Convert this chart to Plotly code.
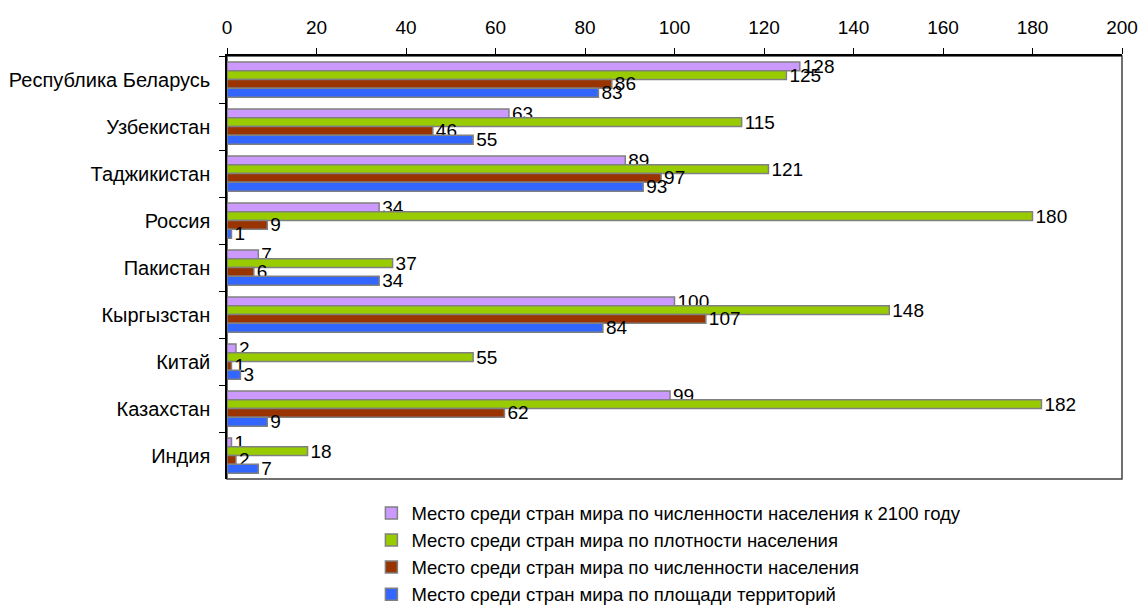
import plotly.graph_objects as go

# categories listed top to bottom as in the reference
categories = ["Республика Беларусь", "Узбекистан", "Таджикистан", "Россия",
              "Пакистан", "Кыргызстан", "Китай", "Казахстан", "Индия"]

series_names = [
    "Место среди стран мира по численности населения к 2100 году",
    "Место среди стран мира по плотности населения",
    "Место среди стран мира по численности населения",
    "Место среди стран мира по площади территорий",
]

pop_2100 = [128, 63, 89, 34, 7, 100, 2, 99, 1]
density = [125, 115, 121, 180, 37, 148, 55, 182, 18]
population = [86, 46, 97, 9, 6, 107, 1, 62, 2]
area = [83, 55, 93, 1, 34, 84, 3, 9, 7]

x_ticks = [0, 20, 40, 60, 80, 100, 120, 140, 160, 180, 200]

colors = ["#CC99FF", "#99CC00", "#993300", "#3366FF"]
values = [pop_2100, density, population, area]

FONT = "Liberation Sans, Arial, sans-serif"

fig = go.Figure()
for i in range(4):
    fig.add_trace(go.Bar(
        y=categories, x=values[i], orientation="h", name=series_names[i],
        marker=dict(color=colors[i], line=dict(color="#808080", width=1.5)),
        text=[str(v) for v in values[i]], textposition="outside",
        textfont=dict(size=19, color="#000000", family=FONT),
        constraintext="none", cliponaxis=False,
        legendgroup=str(i),
    ))

fig.update_layout(
    width=1141, height=606,
    margin=dict(l=227, r=19, t=56, b=127, autoexpand=False),
    paper_bgcolor="white", plot_bgcolor="white",
    barmode="group", bargap=0.25, bargroupgap=0,
    font=dict(family=FONT, size=19, color="#000000"),
    showlegend=True,
    legend=dict(xref="container", yref="container", x=0.3255, y=0.184,
                xanchor="left", yanchor="top",
                traceorder="grouped", tracegroupgap=0,
                font=dict(size=18.5, family=FONT), itemwidth=30),
)
fig.update_xaxes(side="top", range=[0, 200], tickvals=x_ticks,
                 ticks="outside", ticklen=6, tickcolor="#000000",
                 showline=True, linecolor="#000000", linewidth=1.5,
                 showgrid=False, zeroline=False, fixedrange=True,
                 automargin=False, ticklabelstandoff=7,
                 tickfont=dict(size=19))
fig.update_yaxes(type="category", categoryorder="array", categoryarray=categories,
                 autorange="reversed",
                 tickson="boundaries", ticks="outside", ticklen=6, tickcolor="#000000",
                 showline=True, linecolor="#000000", linewidth=1.5,
                 showgrid=False, zeroline=False, fixedrange=True,
                 automargin=False, ticklabelstandoff=11, tickfont=dict(size=20))
fig.add_shape(type="rect", xref="paper", yref="paper", x0=0, x1=1, y0=0, y1=1,
              line=dict(color="#404040", width=1.5), layer="below")

fig.write_html("out.html", config={"displayModeBar": False},
               post_script="document.body.style.margin='0';document.body.style.padding='0';")
